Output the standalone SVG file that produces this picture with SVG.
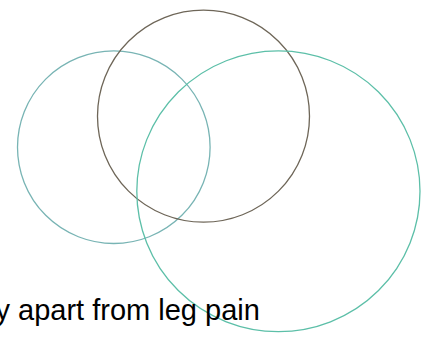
<svg xmlns="http://www.w3.org/2000/svg" width="425" height="338" viewBox="0 0 425 338">
<style>
.c{fill:none;stroke-width:1.3}
.t{font-family:"Liberation Sans",Arial,sans-serif;font-size:29px;fill:#000}
</style>
<rect width="425" height="338" fill="#fff"/>
<g id="circle-left"><circle class="c" cx="113.8" cy="147.2" r="96.3" stroke="#78b4b4"/></g>
<g id="circle-top"><circle class="c" cx="203.5" cy="116.2" r="106" stroke="#6e6658"/></g>
<g id="circle-right"><ellipse class="c" cx="278.4" cy="191.3" rx="141.6" ry="140.4" stroke="#5cbfa8"/></g>
<g id="label"><text class="t" x="-4.5" y="320">y apart from leg pain</text></g>
</svg>
